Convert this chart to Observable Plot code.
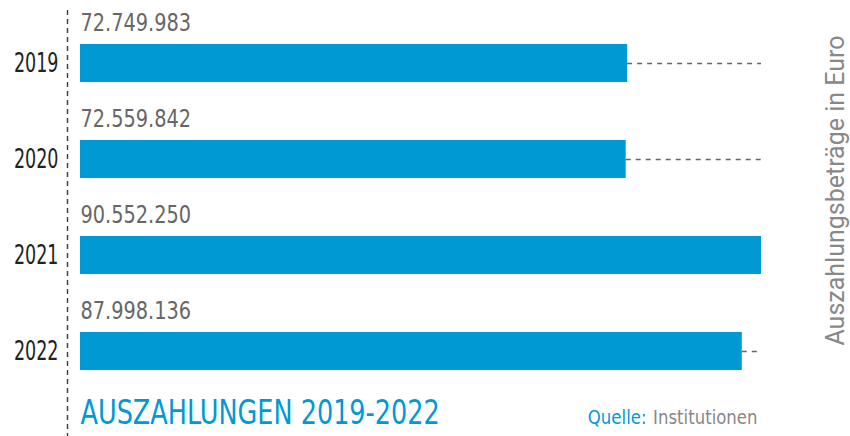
<!DOCTYPE html>
<html><head><meta charset="utf-8">
<script src="https://cdn.jsdelivr.net/npm/d3@7"></script>
<script src="https://cdn.jsdelivr.net/npm/@observablehq/plot@0.6"></script>
<style>
body{margin:0;background:#fff;}
#chart svg{display:block;}
</style>
</head><body><div id="chart"></div>
<script>
const years = ["2019", "2020", "2021", "2022"];
const amounts = [72749983, 72559842, 90552250, 87998136];
const title = "AUSZAHLUNGEN 2019-2022";
const sourceLabel = "Quelle:";
const sourceText = "Institutionen";
const axisTitle = "Auszahlungsbeträge in Euro";

const data = years.map((y, i) => ({year: y, value: amounts[i]}));
const maxV = d3.max(amounts);
const de = d3.formatLocale({decimal: ",", thousands: ".", grouping: [3], currency: ["", " €"]});
const fmt = de.format(",d");
const COND = "'DejaVu Sans Condensed',Roboto,sans-serif";
const blue = "#0099d4";

const chart = Plot.plot({
  width: 850, height: 436,
  marginLeft: 80, marginRight: 89, marginTop: 15, marginBottom: 37,
  x: {domain: [0, maxV], axis: null},
  y: {domain: years, paddingInner: 0.604, paddingOuter: 0.302, align: 0.5, label: null},
  style: {fontFamily: COND},
  marks: [
    Plot.ruleX([0], {dx: -13, insetTop: -5, insetBottom: -37, stroke: "#444", strokeWidth: 1.5, strokeDasharray: "5,4"}),
    Plot.barX(data, {y: "year", x: "value", fill: blue}),
    Plot.ruleY(data, {y: "year", x1: "value", x2: () => maxV, stroke: "#666", strokeWidth: 1.5, strokeDasharray: "5,5"}),
    Plot.text(data, {y: "year", x: 0, text: d => fmt(d.value), textAnchor: "start", dy: -41, fill: "#666", fontSize: 25}),
    Plot.axisY({tickSize: 0, tickPadding: 22, fontSize: 26, color: "#222", label: null}),
    Plot.text([title], {frameAnchor: "bottom-left", dy: 24, fill: blue, fontSize: 33}),
    Plot.text([sourceText], {frameAnchor: "bottom-right", dy: 24, dx: -4, fill: "#888", fontSize: 20}),
    Plot.text([sourceLabel], {frameAnchor: "bottom-right", dy: 24, dx: -115, fill: blue, fontSize: 20}),
    Plot.text([axisTitle], {frameAnchor: "right", textAnchor: "middle", dx: 74, dy: -17, rotate: -90, fill: "#888", fontSize: 25, fontFamily: "Roboto, sans-serif"})
  ]
});
document.getElementById("chart").append(chart);

// horizontally condense text glyphs (font look), keeping anchors in place
function squeezeEl(el, s) {
  const t = el.getAttribute("transform") || "";
  const x = el.getAttribute("x");
  el.removeAttribute("x");
  el.setAttribute("transform", `${t} translate(${x == null ? 0 : x},0) scale(${s},1)`);
}
const valueLabels = new Set(amounts.map(fmt));
chart.querySelectorAll("text").forEach(el => {
  const s = el.textContent;
  if (valueLabels.has(s)) squeezeEl(el, 0.86);
  else if (s === title) squeezeEl(el, 0.86);
  else if (s === sourceText || s === sourceLabel) squeezeEl(el, 0.92);
});
chart.querySelectorAll('g[aria-label="y-axis tick label"] text').forEach(el => squeezeEl(el, 0.75));
</script>
</body></html>
